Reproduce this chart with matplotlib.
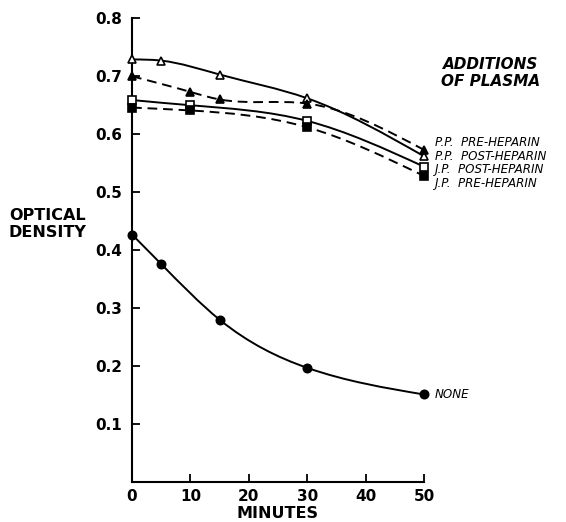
import numpy as np
import matplotlib.pyplot as plt
from matplotlib.path import Path
from matplotlib.patches import PathPatch

# minutes and optical density
none_x = [0, 5, 15, 30, 50]
none_y = [0.427, 0.376, 0.280, 0.197, 0.151]

pp_post_x = [0, 5, 15, 30, 50]
pp_post_y = [0.729, 0.727, 0.703, 0.662, 0.562]

pp_pre_x = [0, 10, 15, 30, 50]
pp_pre_y = [0.700, 0.673, 0.660, 0.653, 0.573]

jp_post_x = [0, 10, 30, 50]
jp_post_y = [0.659, 0.650, 0.623, 0.544]

jp_pre_x = [0, 10, 30, 50]
jp_pre_y = [0.646, 0.641, 0.612, 0.528]

labels = ['P.P.  PRE-HEPARIN', 'P.P.  POST-HEPARIN',
          'J.P.  POST-HEPARIN', 'J.P.  PRE-HEPARIN']


def smooth_path(x, y):
    # natural cubic spline through the points, written as bezier segments
    x = np.asarray(x, float)
    y = np.asarray(y, float)
    n = len(x)
    h = np.diff(x)
    A = np.zeros((n, n))
    b = np.zeros(n)
    A[0, 0] = A[-1, -1] = 1
    for i in range(1, n - 1):
        A[i, i - 1] = h[i - 1]
        A[i, i] = 2 * (h[i - 1] + h[i])
        A[i, i + 1] = h[i]
        b[i] = 6 * ((y[i + 1] - y[i]) / h[i] - (y[i] - y[i - 1]) / h[i - 1])
    M = np.linalg.solve(A, b)
    verts = [(x[0], y[0])]
    codes = [Path.MOVETO]
    for i in range(n - 1):
        d0 = (y[i + 1] - y[i]) / h[i] - h[i] * (2 * M[i] + M[i + 1]) / 6
        d1 = (y[i + 1] - y[i]) / h[i] + h[i] * (M[i] + 2 * M[i + 1]) / 6
        verts += [(x[i] + h[i] / 3, y[i] + d0 * h[i] / 3),
                  (x[i + 1] - h[i] / 3, y[i + 1] - d1 * h[i] / 3),
                  (x[i + 1], y[i + 1])]
        codes += [Path.CURVE4] * 3
    return Path(verts, codes)


fig = plt.figure(figsize=(5.66, 5.22), dpi=100)
ax = fig.add_axes([132 / 566, 1 - 482 / 522, 292 / 566, (482 - 18.3) / 522])
ax.set_xlim(0, 50)
ax.set_ylim(0, 0.8)

series = [
    (none_x, none_y, '-', 'o', 'black'),
    (pp_post_x, pp_post_y, '-', '^', 'white'),
    (pp_pre_x, pp_pre_y, '--', '^', 'black'),
    (jp_post_x, jp_post_y, '-', 's', 'white'),
    (jp_pre_x, jp_pre_y, '--', 's', 'black'),
]
for xs, ys, ls, mk, fc in series:
    ax.add_patch(PathPatch(smooth_path(xs, ys), fill=False, lw=1.4,
                           ls=ls if ls == '-' else (0, (5, 3)),
                           edgecolor='black', clip_on=False))
    ax.plot(xs, ys, ls='none', marker=mk, ms=6, mfc=fc, mec='black',
            mew=1.2, clip_on=False, zorder=3)

for s in ['top', 'right']:
    ax.spines[s].set_visible(False)
for s in ['left', 'bottom']:
    ax.spines[s].set_linewidth(1.5)

ax.set_xticks([0, 10, 20, 30, 40, 50])
ax.set_yticks([0.1, 0.2, 0.3, 0.4, 0.5, 0.6, 0.7, 0.8])
ax.set_yticklabels(['0.1', '0.2', '0.3', '0.4', '0.5', '0.6', '0.7', '0.8'])
ax.tick_params(direction='in', length=6, width=1.3, labelsize=11, pad=7)
ax.tick_params(axis='x', pad=5)
for t in ax.get_xticklabels() + ax.get_yticklabels():
    t.set_fontweight('bold')

fig.text(278 / 566, 1 - 514 / 522, 'MINUTES', fontsize=11.5,
         fontweight='bold', ha='center', va='center')
fig.text(9 / 566, 1 - 224 / 522, 'OPTICAL\nDENSITY', fontsize=11.5,
         fontweight='bold', ha='left', va='center', linespacing=1.15)

fig.text(491 / 566, 1 - 73 / 522, 'ADDITIONS\nOF PLASMA', fontsize=11,
         fontweight='bold', style='italic', ha='center', va='center',
         linespacing=1.2)

for lab, ypix in zip(labels, [142, 156, 169, 183]):
    fig.text(435 / 566, 1 - ypix / 522, lab, fontsize=8.6, style='italic',
             ha='left', va='center')
fig.text(435 / 566, 1 - 395 / 522, 'NONE', fontsize=8.6, style='italic',
         ha='left', va='center')

fig.savefig('out.png', dpi=100)
